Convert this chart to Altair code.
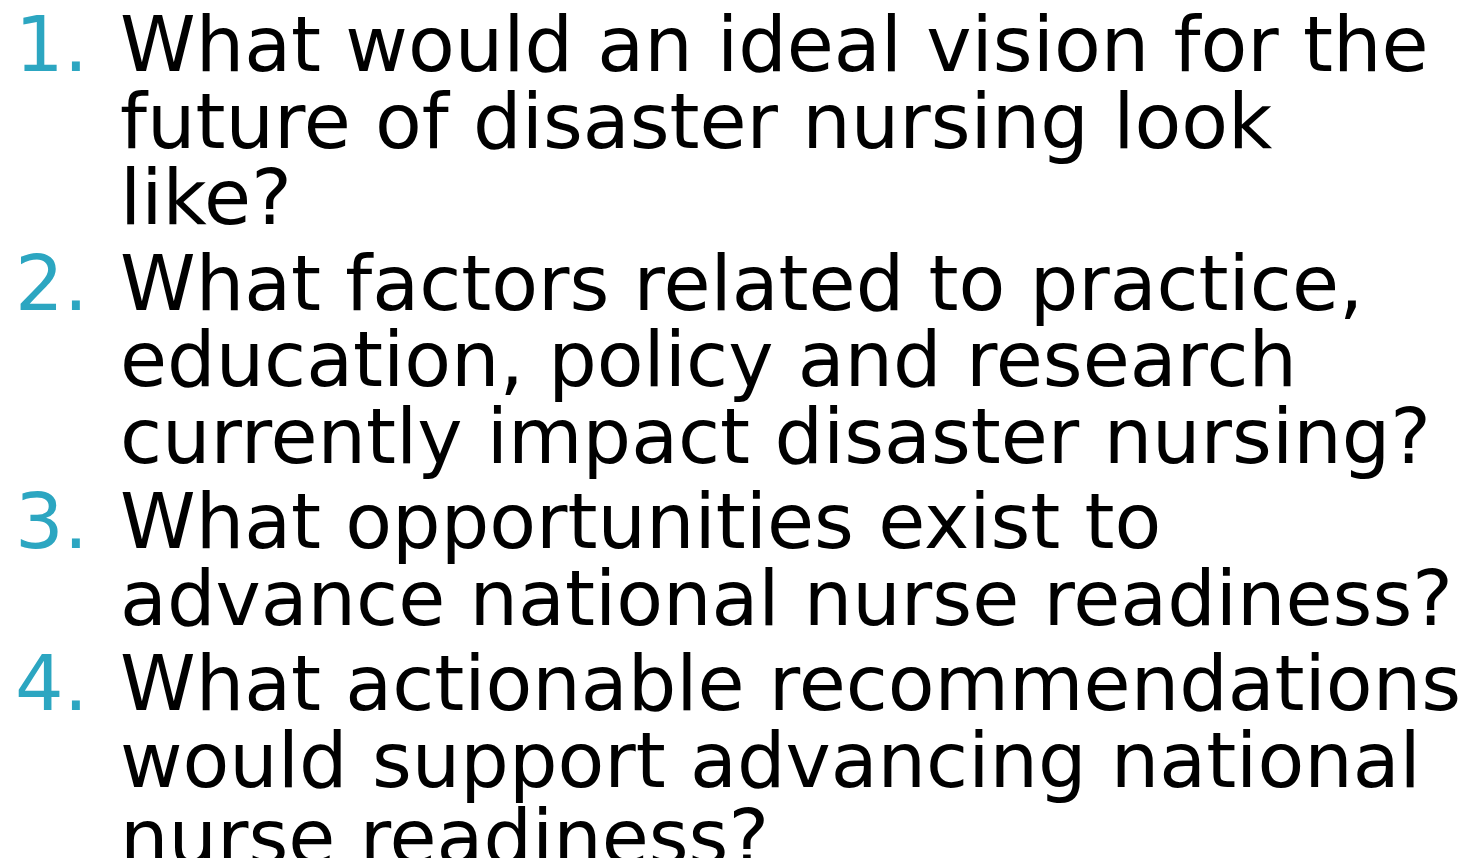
import altair as alt
import pandas as pd

numbers = ["1.", "2.", "3.", "4."]
questions = [
    ["What would an ideal vision for the", "future of disaster nursing look", "like?"],
    ["What factors related to practice,", "education, policy and research", "currently impact disaster nursing?"],
    ["What opportunities exist to", "advance national nurse readiness?"],
    ["What actionable recommendations", "would support advancing national", "nurse readiness?"],
]

ITEM_GAP = 0.111  # extra space between list items, in line units

rows = []
num_rows = []
r = 0
for i, (num, lines) in enumerate(zip(numbers, questions)):
    num_rows.append({"label": num, "pos": r + ITEM_GAP * i})
    for line in lines:
        rows.append({"label": line, "pos": r + ITEM_GAP * i})
        r += 1

text_df = pd.DataFrame(rows)
num_df = pd.DataFrame(num_rows)

yscale = alt.Scale(domain=[-0.821, 10.261], reverse=True, nice=False, zero=False)

FONT = "DejaVu Sans"
SIZE = 76.5

body = alt.Chart(text_df).mark_text(
    align="left", baseline="alphabetic", font=FONT, fontSize=SIZE,
    color="#000000"
).encode(
    x=alt.value(112),
    y=alt.Y("pos:Q", scale=yscale, axis=None),
    text="label:N",
)

nums = alt.Chart(num_df).mark_text(
    align="right", baseline="alphabetic", font=FONT, fontSize=SIZE,
    color="#2CA6C1"
).encode(
    x=alt.value(80),
    y=alt.Y("pos:Q", scale=yscale, axis=None),
    text="label:N",
)

chart = alt.layer(nums, body).properties(
    width=1453, height=850,
    autosize=alt.AutoSizeParams(type="none"),
    padding=0,
).configure_view(stroke=None)

chart.save("out.html", embed_options={"renderer": "svg", "actions": False})
